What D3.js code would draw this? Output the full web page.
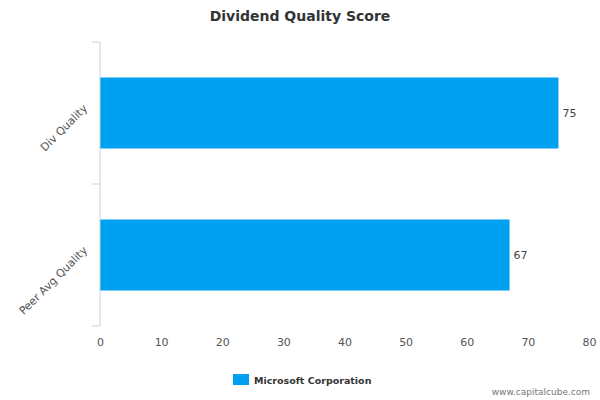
<!DOCTYPE html>
<html><head><meta charset="utf-8">
<script src="https://cdn.jsdelivr.net/npm/d3@7"></script>
<style>body{margin:0;background:#fff}text{font-family:"DejaVu Sans",Arial,sans-serif}</style>
</head><body><svg id="c" width="600" height="400"></svg>
<script>
const categories = ["Div Quality", "Peer Avg Quality"];
const values = [75, 67];
const ticks = [0,10,20,30,40,50,60,70,80];
const seriesName = "Microsoft Corporation";
const svg = d3.select("#c");
const x = d3.scaleLinear().domain([0,80]).range([100,589]);
const y = d3.scaleBand().domain(categories).range([42,326]).paddingInner(0.5).paddingOuter(0.25);
svg.append("text").attr("x",300).attr("y",21).attr("text-anchor","middle")
  .attr("font-size",14).attr("font-weight","bold").attr("fill","#333").text("Dividend Quality Score");
svg.selectAll("rect.bar").data(values).enter().append("rect").attr("class","bar")
  .attr("x",x(0)).attr("y",(d,i)=>y(categories[i])).attr("width",d=>x(d)-x(0))
  .attr("height",y.bandwidth()).attr("fill","#00a0f0");
svg.selectAll("text.val").data(values).enter().append("text")
  .attr("x",d=>x(d)+4).attr("y",(d,i)=>y(categories[i])+y.bandwidth()/2+4)
  .attr("font-size",11).attr("fill","#444").text(d=>d);
const xa = svg.append("g").attr("transform","translate(0,326)").call(d3.axisBottom(x).tickValues(ticks).tickSize(0).tickPadding(12));
xa.select(".domain").remove();
xa.selectAll("text").attr("font-size",11).attr("fill","#555").style("font-family","DejaVu Sans");
svg.append("line").attr("x1",100).attr("x2",100).attr("y1",42).attr("y2",326).attr("stroke","#c0d0e0");
[42,184,326].forEach(v=>svg.append("line").attr("x1",92).attr("x2",100).attr("y1",v).attr("y2",v).attr("stroke","#c0d0e0"));
categories.forEach(c=>{
  const cy = y(c)+y.bandwidth()/2;
  svg.append("text").attr("transform",`translate(88,${cy-4}) rotate(-45)`).attr("text-anchor","end")
   .attr("font-size",11).attr("fill","#555").text(c);
});
svg.append("rect").attr("x",233).attr("y",374).attr("width",16).attr("height",11).attr("fill","#00a0f0");
svg.append("text").attr("x",254).attr("y",384).attr("font-size",9.5).attr("font-weight","bold").attr("fill","#333").text(seriesName);
svg.append("text").attr("x",590).attr("y",395).attr("text-anchor","end").attr("font-size",9).attr("fill","#777").text("www.capitalcube.com");
</script></body></html>
